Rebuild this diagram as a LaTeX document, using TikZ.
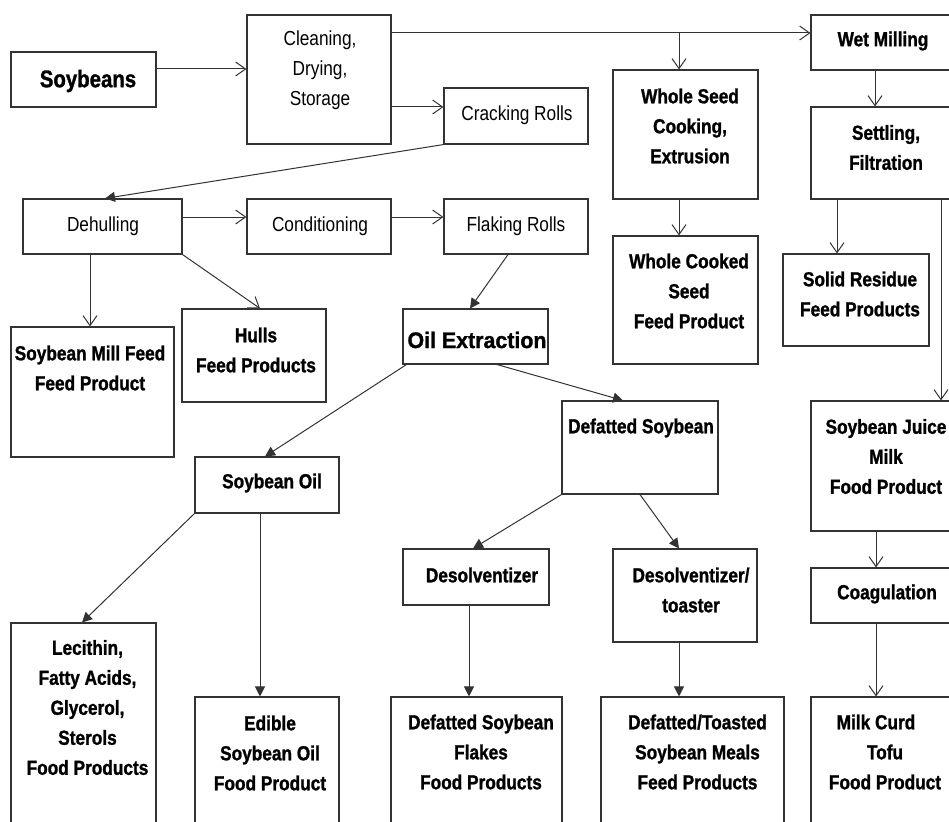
\documentclass[tikz,border=0pt]{standalone}
\usepackage{fontspec}
\setmainfont{Liberation Sans}[FakeStretch=0.85, BoldFeatures={FakeBold=1.2}]
\newfontfamily\bigfont{Liberation Sans}[FakeStretch=0.95, BoldFeatures={FakeBold=1.2}]
\usetikzlibrary{arrows.meta,calc}
\definecolor{linec}{HTML}{333333}
\tikzset{
  box/.style={draw=linec, line width=1.1pt, rectangle, inner sep=0pt},
  txt/.style={align=center, inner sep=0pt, text=black, font=\fontsize{20.3}{30}\selectfont\bfseries},
  txtr/.style={align=center, inner sep=0pt, text=black, font=\fontsize{20.3}{30}\selectfont},
  openarr/.style={draw=linec, line width=1pt, -{Straight Barb[length=10pt,width=14pt]}},
  fillarr/.style={draw=linec, line width=1pt, -{Triangle[length=10pt,width=10pt]}},
}
\begin{document}
\begin{tikzpicture}[x=1pt,y=-1pt]
\useasboundingbox (0,0) rectangle (949,821);
\fill[white] (0,0) rectangle (949,821);
\clip (0,0) rectangle (949,821);
% boxes
\node[box, minimum width=145pt, minimum height=55pt]  (soy)     at (83.5,79.5)  {};
\node[box, minimum width=144pt, minimum height=129pt] (clean)   at (319,79.5)   {};
\node[box, minimum width=144pt, minimum height=56pt]  (crack)   at (516,116)    {};
\node[box, minimum width=145pt, minimum height=55pt]  (wet)     at (883.5,42.5) {};
\node[box, minimum width=145pt, minimum height=129pt] (whole)   at (685.5,134.5){};
\node[box, minimum width=145pt, minimum height=92pt]  (settle)  at (883.5,153)  {};
\node[box, minimum width=159pt, minimum height=55pt]  (dehull)  at (102.5,226.5){};
\node[box, minimum width=144pt, minimum height=55pt]  (cond)    at (319,226.5)  {};
\node[box, minimum width=144pt, minimum height=55pt]  (flake)   at (516,226.5)  {};
\node[box, minimum width=163pt, minimum height=130pt] (mill)    at (92.5,392)   {};
\node[box, minimum width=144pt, minimum height=93pt]  (hulls)   at (254,355.5)  {};
\node[box, minimum width=145pt, minimum height=55pt]  (oilx)    at (475.5,336.5){};
\node[box, minimum width=145pt, minimum height=128pt] (cooked)  at (685.5,300)  {};
\node[box, minimum width=146pt, minimum height=92pt]  (solid)   at (856,300)    {};
\node[box, minimum width=145pt, minimum height=130pt] (juice)   at (883.5,466)  {};
\node[box, minimum width=156pt, minimum height=93pt]  (defat)   at (640,447.5)  {};
\node[box, minimum width=144pt, minimum height=56pt]  (soyoil)  at (267,485)    {};
\node[box, minimum width=146pt, minimum height=56pt]  (desolv)  at (476,577)    {};
\node[box, minimum width=144pt, minimum height=93pt]  (toaster) at (685,595.5)  {};
\node[box, minimum width=145pt, minimum height=55pt]  (coag)    at (883.5,595.5){};
\node[box, minimum width=145pt, minimum height=217pt] (lec)     at (83.5,731.5) {};
\node[box, minimum width=144pt, minimum height=143pt] (edible)  at (267,768.5)  {};
\node[box, minimum width=171pt, minimum height=143pt] (flakes)  at (476.5,768.5){};
\node[box, minimum width=183pt, minimum height=143pt] (meals)   at (692.5,768.5){};
\node[box, minimum width=145pt, minimum height=143pt] (curd)    at (883.5,768.5){};
% texts
\node[txt, font=\fontsize{24}{30}\selectfont\bfseries] (tsoy) at (88,81) {Soybeans};
\node[txtr] (tclean) at (320,70) {Cleaning,\\Drying,\\Storage};
\node[txtr] (tcrack) at (517,115) {Cracking Rolls};
\node[txt] (twet) at (883,41) {Wet Milling};
\node[txt] (twhole) at (690,126) {Whole Seed\\Cooking,\\Extrusion};
\node[txt] (tsettle) at (886,147.5) {Settling,\\Filtration};
\node[txtr] (tdehull) at (103,226) {Dehulling};
\node[txtr] (tcond) at (320,226) {Conditioning};
\node[txtr] (tflake) at (516,226) {Flaking Rolls};
\node[txt] (tmill) at (90,368) {Soybean Mill Feed\\Feed Product};
\node[txt] (thulls) at (256,350) {Hulls\\Feed Products};
\node[txt, font=\bigfont\fontsize{22.5}{30}\selectfont\bfseries] (toilx) at (477,340) {Oil Extraction};
\node[txt] (tcooked) at (689,291) {Whole Cooked\\Seed\\Feed Product};
\node[txt] (tsolid) at (860,294) {Solid Residue\\Feed Products};
\node[txt] (tjuice) at (886,456.5) {Soybean Juice\\Milk\hspace*{26pt}\\Food Product};
\node[txt] (tdefat) at (641,428) {Defatted Soybean};
\node[txt] (tsoyoil) at (272,483) {Soybean Oil};
\node[txt] (tdesolv) at (482,575) {Desolventizer};
\node[txt] (ttoaster) at (691,590) {Desolventizer/\\toaster};
\node[txt] (tcoag) at (887,594) {Coagulation};
\node[txt] (tlec) at (87.5,707.5) {Lecithin,\\Fatty Acids,\\Glycerol,\\Sterols\\Food Products};
\node[txt] (tedible) at (270,753) {Edible\\Soybean Oil\\Food Product};
\node[txt] (tflakes) at (481,752) {Defatted Soybean\\Flakes\\Food Products};
\node[txt] (tmeals) at (697.5,752) {Defatted/Toasted\\Soybean Meals\\Feed Products};
\node[txt] (tcurd) at (885,752) {Milk Curd\hspace*{18pt}\\Tofu\hspace*{20pt}\\Food Product};
% connectors
\draw[openarr] ($(soy.east)+(0,-10.5)$) -- ($(clean.west)+(0,-10.5)$);
\draw[openarr] ($(clean.east)+(0,27.5)$) -- ($(crack.west)+(0,-9)$);
\draw[openarr] ($(clean.east)+(0,-46.5)$) -- ($(wet.west)+(0,-9.5)$);
\coordinate (jn) at ($(whole.north)+(-6.5,-37)$);
\draw[openarr] (jn) -- ($(whole.north)+(-6.5,0)$);
\draw[openarr] ($(wet.south)+(-8.5,0)$) -- ($(settle.north)+(-8.5,0)$);
\draw[fillarr] (crack.south west) -- ($(dehull.north)+(2.5,0)$);
\draw[openarr] ($(dehull.east)+(0,-9.5)$) -- ($(cond.west)+(0,-9.5)$);
\draw[openarr] ($(cond.east)+(0,-9.5)$) -- ($(flake.west)+(0,-9.5)$);
\draw[openarr] ($(dehull.south)+(-12.5,0)$) -- ($(mill.north)+(-2.5,0)$);
\draw[openarr] (dehull.south east) -- ($(hulls.north)+(6,0)$);
\draw[fillarr] ($(flake.south)+(-8,0)$) -- ($(oilx.north)+(-5.5,0)$);
\draw[fillarr] ($(oilx.south west)+(4,0)$) -- ($(soyoil.north)+(-2,0)$);
\draw[fillarr] ($(oilx.south)+(21.5,0)$) -- ($(defat.north)+(-17,0)$);
\draw[openarr] ($(whole.south)+(-6.5,0)$) -- ($(cooked.north)+(-6.5,0)$);
\draw[openarr] ($(settle.south)+(-46.5,0)$) -- ($(solid.north)+(-19,0)$);
\draw[openarr] ($(settle.south)+(57.5,0)$) -- ($(juice.north)+(57.5,0)$);
\draw[fillarr] (defat.south west) -- ($(desolv.north)+(-3,0)$);
\draw[fillarr] (defat.south) -- ($(toaster.north)+(-6,0)$);
\draw[fillarr] (soyoil.south west) -- ($(lec.north)+(-1.5,0)$);
\draw[fillarr] ($(soyoil.south)+(-7,0)$) -- ($(edible.north)+(-7,0)$);
\draw[fillarr] ($(desolv.south)+(-7,0)$) -- ($(flakes.north)+(-7.5,0)$);
\draw[fillarr] ($(toaster.south)+(-6,0)$) -- ($(meals.north)+(-13.5,0)$);
\draw[openarr] ($(juice.south)+(-7.5,0)$) -- ($(coag.north)+(-7.5,0)$);
\draw[openarr] ($(coag.south)+(-7.5,0)$) -- ($(curd.north)+(-7.5,0)$);
\end{tikzpicture}
\end{document}
